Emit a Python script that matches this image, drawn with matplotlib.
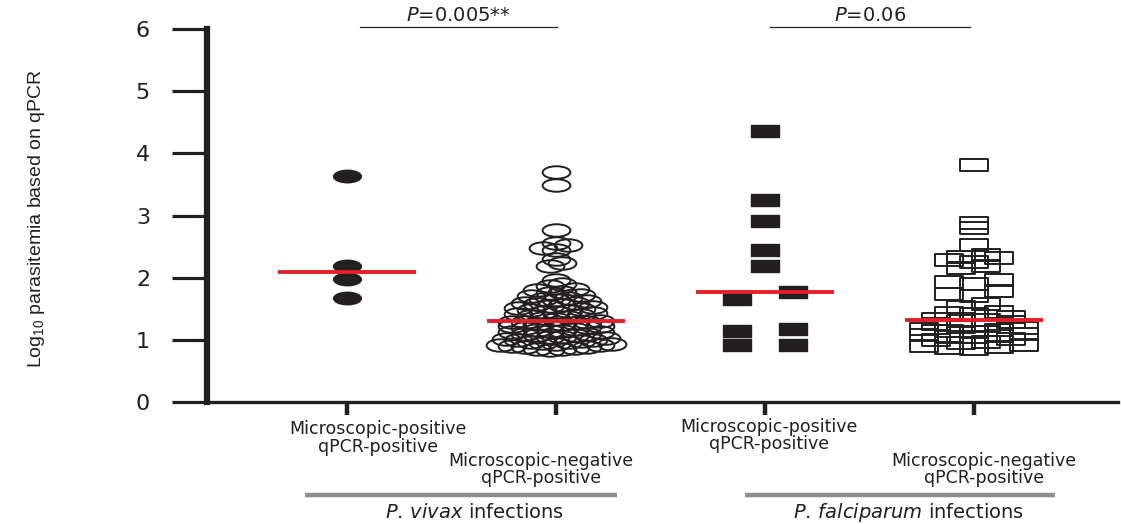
import numpy as np
import matplotlib
matplotlib.use("Agg")
import matplotlib.pyplot as plt
from matplotlib.path import Path

# ---------------- data ----------------
categories = ["Microscopic-positive\nqPCR-positive",
              "Microscopic-negative\nqPCR-positive",
              "Microscopic-positive\nqPCR-positive",
              "Microscopic-negative\nqPCR-positive"]
group_species = ["P. vivax", "P. falciparum"]
p_labels = ["0.005**", "0.06"]
yticks = [0, 1, 2, 3, 4, 5, 6]

vivax_pos = [3.63, 2.19, 1.98, 1.67]
vivax_neg = [0.84, 0.85, 0.86, 0.87, 0.88, 0.89, 0.90, 0.91, 0.92, 0.93,
             0.94, 0.95, 0.96, 0.97, 0.98, 0.99, 1.00, 1.02, 1.03,
             1.04, 1.05, 1.07, 1.08, 1.09, 1.10, 1.12, 1.13,
             1.14, 1.15, 1.16, 1.18, 1.19, 1.20, 1.22, 1.23,
             1.24, 1.25, 1.26, 1.27, 1.28, 1.29, 1.29, 1.30,
             1.34, 1.35, 1.37, 1.38, 1.40, 1.41, 1.43,
             1.44, 1.45, 1.47, 1.48, 1.50, 1.51, 1.53,
             1.54, 1.56, 1.57, 1.59, 1.60, 1.62,
             1.64, 1.66, 1.68, 1.70, 1.72,
             1.75, 1.77, 1.80, 1.82,
             1.86, 1.90, 1.96,
             2.19, 2.24, 2.30,
             2.44, 2.48, 2.52, 2.56,
             2.77, 3.49, 3.70]
falc_pos = [4.36, 3.25, 2.91, 2.44, 2.19, 1.77, 1.66, 1.17, 1.14, 0.92, 0.92]
falc_neg = [0.86, 0.87, 0.88, 0.90, 0.92,
            0.95, 0.97, 1.00, 1.02,
            1.04, 1.05, 1.06, 1.08, 1.10,
            1.12, 1.14, 1.16, 1.18, 1.19,
            1.21, 1.22, 1.25, 1.28,
            1.30, 1.32, 1.34, 1.36,
            1.41, 1.43, 1.45,
            1.53, 1.57,
            1.71, 1.74, 1.78,
            1.90, 1.93, 1.97,
            2.15, 2.19,
            2.25, 2.28, 2.31, 2.33, 2.36,
            2.52, 2.80, 2.88, 3.81]

series = [vivax_pos, vivax_neg, falc_pos, falc_neg]

# ---------------- style ----------------
INK = "#231f20"
RED = "#e3202a"
GRAY = "#8e8e8e"

plt.rcParams["font.family"] = ["DejaVu Sans"]
plt.rcParams["mathtext.default"] = "regular"

ellipse = Path(Path.unit_circle().vertices * np.array([1.0, 0.45]),
               Path.unit_circle().codes)
rect = Path([(-0.5, -0.2), (0.5, -0.2), (0.5, 0.2), (-0.5, 0.2), (-0.5, -0.2)],
            [Path.MOVETO, Path.LINETO, Path.LINETO, Path.LINETO, Path.CLOSEPOLY])

W, H = 1121, 524
fig = plt.figure(figsize=(W / 100, H / 100), dpi=100)
ax = fig.add_axes([207 / W, 122 / H, (1118 - 207) / W, 373 / H])
ax.set_xlim(-0.67, 3.69)
ax.set_ylim(0, 6)

# pixel scale for the scatter layout
p0 = ax.transData.transform((0, 0))
p1 = ax.transData.transform((1, 1))
pxx = p1[0] - p0[0]


def row_layout(values, bin_h, spacing_px):
    """Prism-like column scatter: bin sorted values into rows and spread
    each row symmetrically about the category centre."""
    vals = np.asarray(values, dtype=float)
    order = np.argsort(vals, kind="stable")
    rows, row, start = [], [], None
    for i in order:
        if start is None or vals[i] - start >= bin_h:
            if row:
                rows.append(row)
            row, start = [i], vals[i]
        else:
            row.append(i)
    rows.append(row)
    offs = np.zeros(len(vals))
    for row in rows:
        n = len(row)
        pos = (np.arange(n) - (n - 1) / 2) * spacing_px
        slots = sorted(range(n), key=lambda k: (abs(pos[k]), pos[k]))
        for idx, k in zip(row, slots):
            offs[idx] = pos[k]
    return offs / pxx


ms = 20.0  # points; ~28 px wide
wpx = ms * 100 / 72
specs = [
    dict(marker=ellipse, filled=True, bin=0.15, sp=2.0 * wpx),
    dict(marker=ellipse, filled=False, bin=0.095, sp=0.45 * wpx),
    dict(marker=rect, filled=True, bin=0.15, sp=2.0 * wpx),
    dict(marker=rect, filled=False, bin=0.075, sp=0.9 * wpx),
]

for i, (vals, sp) in enumerate(zip(series, specs)):
    offs = row_layout(vals, sp["bin"], sp["sp"])
    ax.plot(i + offs, vals, linestyle="none", marker=sp["marker"], markersize=ms,
            markerfacecolor=INK if sp["filled"] else "none",
            markeredgecolor=INK, markeredgewidth=1.0 if sp["filled"] else 1.4,
            zorder=3, clip_on=False)
    med = np.median(vals)
    ax.plot([i - 0.33, i + 0.33], [med, med], color=RED, lw=2.8,
            solid_capstyle="butt", zorder=5)

# axes styling
for s in ["top", "right"]:
    ax.spines[s].set_visible(False)
ax.spines["left"].set_linewidth(4.5)
ax.spines["left"].set_color(INK)
ax.spines["bottom"].set_linewidth(2.4)
ax.spines["bottom"].set_color(INK)
ax.set_yticks(yticks)
ax.set_yticklabels([str(t) for t in yticks])
ax.tick_params(axis="y", direction="out", length=25, width=2.3, color=INK,
               pad=16, labelsize=16, labelcolor=INK)
ax.set_xticks(range(len(categories)))
ax.set_xticklabels([""] * len(categories))
ax.tick_params(axis="x", direction="out", length=9.5, width=3.2, color=INK)

# category labels (staggered)
lab_dx = [0.148, -0.072, 0.019, 0.048]
lab_y = [-0.58, -1.09, -0.54, -1.09]
for i, txt in enumerate(categories):
    ax.text(i + lab_dx[i], lab_y[i], txt, ha="center", va="center",
            fontsize=12.5, linespacing=0.95, color=INK, clip_on=False)

# group bars and labels
grp_x = [(-0.20, 1.29), (1.904, 3.388)]
grp_tx = [0.608, 2.69]
for (x0, x1), tx, sp in zip(grp_x, grp_tx, group_species):
    ax.plot([x0, x1], [-1.495, -1.495], color=GRAY, lw=3.2, clip_on=False,
            solid_capstyle="butt")
    it = sp.replace(" ", r"\,")
    ax.text(tx, -1.77, r"$\mathit{" + it + "}$ infections", ha="center",
            va="center", fontsize=14, color=INK, clip_on=False)

# p-value brackets
br_x = [(0.062, 1.005), (2.024, 2.98)]
for (x0, x1), pl in zip(br_x, p_labels):
    ax.plot([x0, x1], [6.03, 6.03], color=INK, lw=0.9, clip_on=False)
    ax.text((x0 + x1) / 2, 6.07, r"$\mathit{P}$=" + pl, ha="center",
            va="bottom", fontsize=14, color=INK, clip_on=False)

fig.text(37 / W, 1 - 219 / H, r"Log$_{10}$ parasitemia based on qPCR",
         rotation=90, ha="center", va="center", fontsize=14,
         family=["Liberation Sans", "DejaVu Sans"], color=INK)

fig.savefig("out.png", dpi=100, facecolor="white")
